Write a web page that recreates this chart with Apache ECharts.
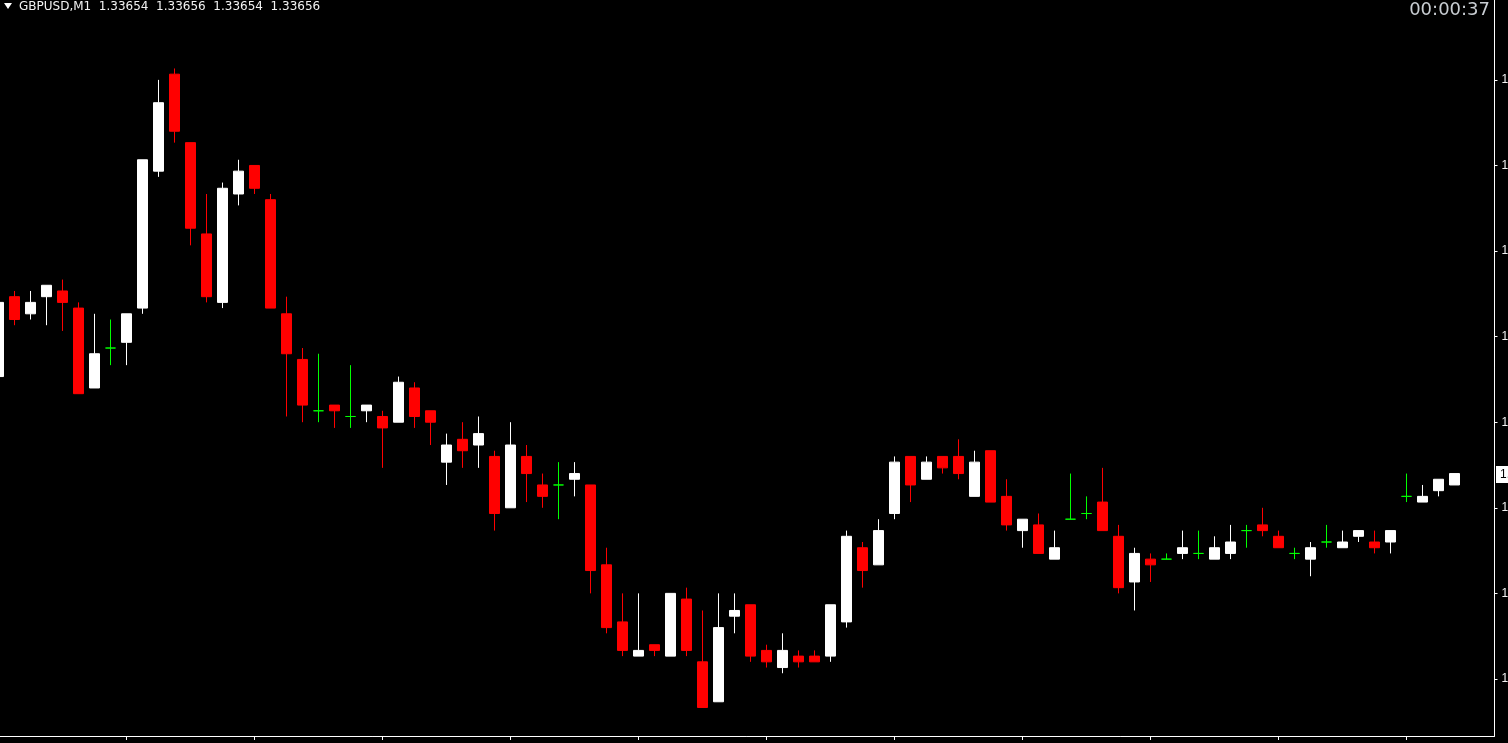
<!DOCTYPE html>
<html>
<head>
<meta charset="utf-8">
<script src="https://cdn.jsdelivr.net/npm/echarts@6/dist/echarts.min.js"></script>
<style>
html,body{margin:0;padding:0;background:#000;}
#chart{width:1508px;height:743px;}
</style>
</head>
<body>
<div id="chart"></div>
<script>
// ---- data ----
const symbolName = 'GBPUSD,M1';
const timerText = '00:00:37';

const open = [1.33673,1.33687,1.33684,1.33687,1.33688,1.33685,1.33671,1.33678,1.33679,1.33685,1.33709,1.33726,1.33714,1.33698,1.33686,1.33705,1.33710,1.33704,1.33684,1.33676,1.33667,1.33668,1.33666,1.33667,1.33666,1.33665,1.33671,1.33667,1.33658,1.33662,1.33661,1.33659,1.33650,1.33659,1.33654,1.33654,1.33655,1.33654,1.33640,1.33630,1.33624,1.33626,1.33624,1.33634,1.33623,1.33616,1.33631,1.33633,1.33625,1.33622,1.33624,1.33624,1.33624,1.33630,1.33643,1.33640,1.33649,1.33659,1.33655,1.33659,1.33659,1.33652,1.33660,1.33652,1.33646,1.33647,1.33641,1.33648,1.33649,1.33651,1.33645,1.33637,1.33641,1.33641,1.33642,1.33642,1.33641,1.33642,1.33646,1.33647,1.33645,1.33642,1.33641,1.33644,1.33643,1.33645,1.33644,1.33644,1.33652,1.33651,1.33653,1.33654];
const high = [1.33686,1.33688,1.33688,1.33689,1.33690,1.33686,1.33684,1.33683,1.33684,1.33711,1.33725,1.33727,1.33714,1.33705,1.33707,1.33711,1.33710,1.33705,1.33687,1.33678,1.33677,1.33668,1.33675,1.33668,1.33667,1.33673,1.33672,1.33667,1.33663,1.33665,1.33666,1.33660,1.33665,1.33661,1.33656,1.33658,1.33658,1.33654,1.33643,1.33635,1.33635,1.33626,1.33635,1.33636,1.33632,1.33635,1.33635,1.33633,1.33626,1.33628,1.33625,1.33625,1.33633,1.33646,1.33644,1.33648,1.33659,1.33659,1.33659,1.33659,1.33662,1.33660,1.33660,1.33655,1.33648,1.33649,1.33646,1.33656,1.33652,1.33657,1.33647,1.33643,1.33642,1.33642,1.33646,1.33646,1.33645,1.33647,1.33647,1.33650,1.33646,1.33643,1.33644,1.33647,1.33646,1.33646,1.33646,1.33646,1.33656,1.33654,1.33655,1.33656];
const low = [1.33673,1.33682,1.33683,1.33682,1.33681,1.33670,1.33671,1.33675,1.33675,1.33684,1.33708,1.33714,1.33696,1.33686,1.33685,1.33703,1.33705,1.33685,1.33666,1.33665,1.33665,1.33664,1.33664,1.33665,1.33657,1.33665,1.33664,1.33661,1.33654,1.33657,1.33657,1.33646,1.33650,1.33651,1.33650,1.33648,1.33652,1.33635,1.33628,1.33624,1.33624,1.33624,1.33624,1.33624,1.33615,1.33616,1.33628,1.33623,1.33622,1.33621,1.33622,1.33623,1.33623,1.33629,1.33636,1.33640,1.33648,1.33651,1.33655,1.33656,1.33655,1.33652,1.33651,1.33646,1.33643,1.33642,1.33641,1.33648,1.33648,1.33646,1.33635,1.33632,1.33637,1.33641,1.33641,1.33641,1.33641,1.33641,1.33643,1.33645,1.33643,1.33641,1.33638,1.33643,1.33643,1.33644,1.33642,1.33642,1.33651,1.33651,1.33652,1.33654];
const close = [1.33686,1.33683,1.33686,1.33689,1.33686,1.33670,1.33677,1.33678,1.33684,1.33711,1.33721,1.33716,1.33699,1.33687,1.33706,1.33709,1.33706,1.33685,1.33677,1.33668,1.33667,1.33667,1.33666,1.33668,1.33664,1.33672,1.33666,1.33665,1.33661,1.33660,1.33663,1.33649,1.33661,1.33656,1.33652,1.33654,1.33656,1.33639,1.33629,1.33625,1.33625,1.33625,1.33635,1.33625,1.33615,1.33629,1.33632,1.33624,1.33623,1.33625,1.33623,1.33623,1.33633,1.33645,1.33639,1.33646,1.33658,1.33654,1.33658,1.33657,1.33656,1.33658,1.33651,1.33647,1.33648,1.33642,1.33643,1.33648,1.33649,1.33646,1.33636,1.33642,1.33640,1.33641,1.33643,1.33642,1.33643,1.33644,1.33646,1.33646,1.33643,1.33642,1.33643,1.33644,1.33644,1.33646,1.33643,1.33646,1.33652,1.33652,1.33655,1.33656];

const priceTicks = [1.33620,1.33635,1.33650,1.33665,1.33680,1.33695,1.33710,1.33725];

// minute labels for the category axis (candles plus two empty right-shift slots)
const startMinute = 9 * 60 + 23;
const slotCount = open.length + 2;
const times = [];
for (let i = 0; i < slotCount; i++) {
  const m = startMinute + i;
  times.push(String(Math.floor(m / 60)).padStart(2, '0') + ':' + String(m % 60).padStart(2, '0'));
}

// ---- chart ----
const UP = '#ffffff', DOWN = '#ff0000', DOJI = '#00ff00';
const candles = open.map((o, i) => {
  const item = { value: [o, close[i], low[i], high[i]] };
  if (o === close[i]) {
    item.itemStyle = { color: DOJI, color0: DOJI, borderColor: DOJI, borderColor0: DOJI, borderColorDoji: DOJI };
  }
  return item;
});
const last = open.length - 1;
const fmt = v => v.toFixed(5);
const headerText = symbolName + '  ' + fmt(open[last]) + '  ' + fmt(high[last]) + '  ' + fmt(low[last]) + '  ' + fmt(close[last]);

const GRID_RIGHT = 13.5;
const chart = echarts.init(document.getElementById('chart'), null, { renderer: 'canvas' });
chart.setOption({
  backgroundColor: '#000000',
  animation: false,
  title: [
    { text: headerText, left: 19, top: 0, padding: 0,
      textStyle: { color: '#f2f2f2', fontSize: 12, fontWeight: 'normal', fontFamily: 'DejaVu Sans', lineHeight: 13 } },
    { text: timerText, right: 18, top: 1, padding: 0,
      textStyle: { color: '#c8cdd2', fontSize: 18, fontWeight: 'normal', fontFamily: 'DejaVu Sans', lineHeight: 18 } }
  ],
  grid: { left: -9.5, right: GRID_RIGHT, top: 0, bottom: 7, containLabel: false, outerBoundsMode: 'none' },
  xAxis: {
    type: 'category', data: times, boundaryGap: true,
    axisLine: { show: true, lineStyle: { color: '#ffffff', width: 1 } },
    axisTick: { show: true, interval: 7, alignWithLabel: true, length: 4, lineStyle: { color: '#ffffff' } },
    axisLabel: { show: false, interval: 7 },
    splitLine: { show: false }
  },
  yAxis: {
    type: 'value', position: 'right', min: 1.33610, max: 1.33739,
    axisLine: { show: true, lineStyle: { color: '#ffffff', width: 1 } },
    axisTick: { show: true, length: 3, customValues: priceTicks, lineStyle: { color: '#ffffff' } },
    axisLabel: { show: true, customValues: priceTicks, formatter: v => v.toFixed(5), color: '#f2f2f2',
      fontSize: 12, fontFamily: 'Liberation Sans', margin: 7, padding: [3, 0, 0, 0] },
    splitLine: { show: false }
  },
  series: [{
    type: 'candlestick',
    data: candles,
    barWidth: 10,
    itemStyle: { color: UP, color0: DOWN, borderColor: UP, borderColor0: DOWN, borderColorDoji: DOJI, borderWidth: 1 }
  }]
});

// current price tag on the price scale, placed through the axis scale
const lastY = chart.convertToPixel({ yAxisIndex: 0 }, close[last]);
chart.setOption({
  graphic: [
    { type: 'polygon', shape: { points: [[4, 3], [12, 3], [8, 9]] }, style: { fill: '#ffffff' }, silent: true },
    { type: 'text', silent: true, x: chart.getWidth() - GRID_RIGHT + 1.5, y: lastY + 1,
      style: { text: fmt(close[last]), fill: '#000000', backgroundColor: '#ffffff',
        font: '12px "Liberation Sans"', verticalAlign: 'middle', align: 'left', padding: [3, 2, 2, 4] } }
  ]
});
</script>
</body>
</html>
